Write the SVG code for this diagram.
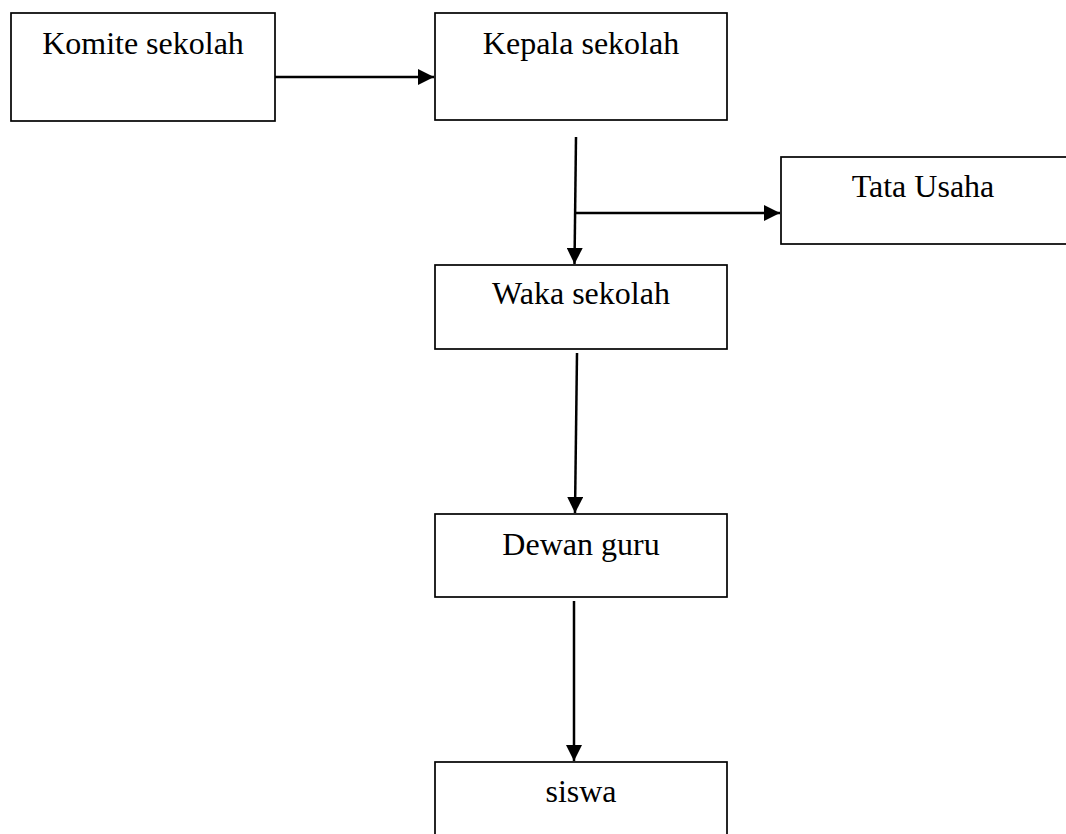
<svg xmlns="http://www.w3.org/2000/svg" width="1066" height="834" viewBox="0 0 1066 834">
<style>
.box{fill:#fff;stroke:#000;stroke-width:1.7}
.lbl{font-family:"Liberation Serif","Times New Roman",serif;font-size:32px;fill:#000;text-anchor:middle}
.con{fill:none;stroke:#000;stroke-width:2.5}
</style>
<defs>
<marker id="ah" markerUnits="userSpaceOnUse" markerWidth="16" markerHeight="16" viewBox="0 0 16 16" refX="16" refY="8" orient="auto">
<path d="M0,0 L16,8 L0,16 Z" fill="#000"/>
</marker>
</defs>
<rect width="1066" height="834" fill="#fff"/>
<g id="komite"><rect class="box" x="11" y="13" width="264" height="108"/><text class="lbl" x="143" y="54">Komite sekolah</text></g>
<g id="kepala"><rect class="box" x="435" y="13" width="292" height="107"/><text class="lbl" x="581" y="54">Kepala sekolah</text></g>
<g id="tata"><rect class="box" x="781" y="157" width="300" height="87"/><text class="lbl" x="923" y="197">Tata Usaha</text></g>
<g id="waka"><rect class="box" x="435" y="265" width="292" height="84"/><text class="lbl" x="581" y="304">Waka sekolah</text></g>
<g id="dewan"><rect class="box" x="435" y="514" width="292" height="83"/><text class="lbl" x="581" y="555">Dewan guru</text></g>
<g id="siswa"><rect class="box" x="435" y="762" width="292" height="90"/><text class="lbl" x="581" y="802">siswa</text></g>
<g id="connectors">
<line class="con" x1="275" y1="77" x2="434" y2="77" marker-end="url(#ah)"/>
<line class="con" x1="576" y1="137" x2="574.5" y2="264" marker-end="url(#ah)"/>
<line class="con" x1="575" y1="213" x2="780" y2="213" marker-end="url(#ah)"/>
<line class="con" x1="577" y1="353" x2="575" y2="513" marker-end="url(#ah)"/>
<line class="con" x1="574" y1="601" x2="574" y2="761" marker-end="url(#ah)"/>
</g>
</svg>
